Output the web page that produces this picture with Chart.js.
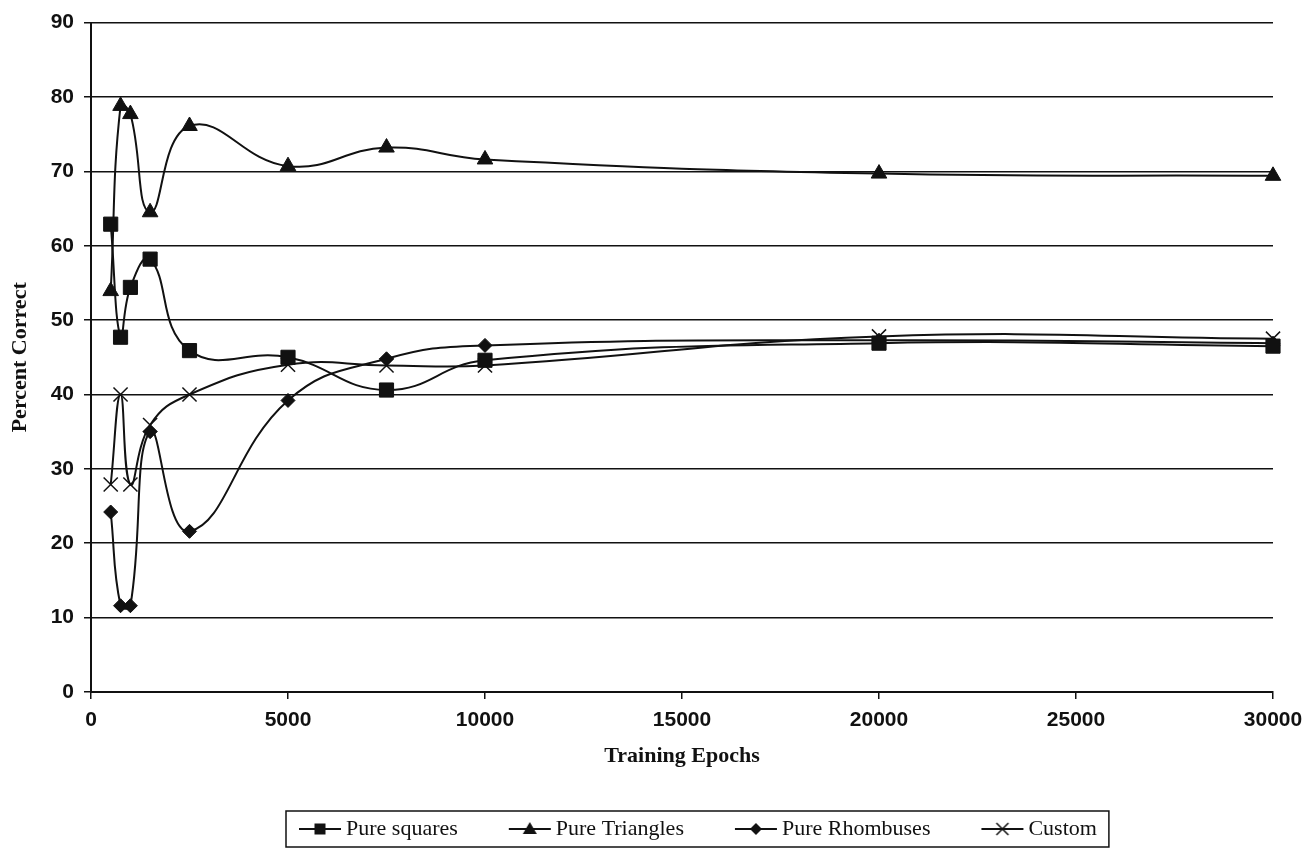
<!DOCTYPE html>
<html>
<head>
<meta charset="utf-8">
<script src="https://cdn.jsdelivr.net/npm/chart.js@4/dist/chart.umd.min.js"></script>
<style>
  html, body { margin: 0; padding: 0; background: #fff; }
  #wrap { width: 1314px; height: 850px; }
</style>
</head>
<body>
<div id="wrap"><canvas id="c" width="1314" height="850"></canvas></div>
<script>
// Training epochs at which each network was tested
const epochs = [500, 750, 1000, 1500, 2500, 5000, 7500, 10000, 20000, 30000];

// Percent correct per training set
const pureSquares   = [62.9, 47.7, 54.4, 58.2, 45.9, 45.0, 40.6, 44.6, 46.9, 46.5];
const pureTriangles = [53.9, 78.8, 77.7, 64.5, 76.1, 70.7, 73.2, 71.6, 69.7, 69.4];
const pureRhombuses = [24.2, 11.6, 11.6, 35.0, 21.6, 39.2, 44.8, 46.6, 47.3, 46.9];
const custom        = [27.9, 40.0, 27.9, 35.9, 40.0, 44.0, 43.9, 43.9, 47.8, 47.5];

const seriesNames = ['Pure squares', 'Pure Triangles', 'Pure Rhombuses', 'Custom'];

// Axis ticks
const xTicks = [0, 5000, 10000, 15000, 20000, 25000, 30000];
const yTicks = [0, 10, 20, 30, 40, 50, 60, 70, 80, 90];

const INK = '#111';
const sansBold = { family: "'Liberation Sans', Arial, sans-serif", size: 21, weight: 'bold' };
const serifBold = { family: "'Liberation Serif', 'Times New Roman', serif", size: 22, weight: 'bold' };

// Legend geometry: swatch box width, swatch symbol width, frame margin
const SW_BOX = 75, SW_SYM = 44, FRAME_PAD = 12, FRAME_LEFT = 286;

// Line-with-marker swatch for a legend entry; the symbol sits at the right
// end of the image so that it ends just before the label text.
function swatch(kind) {
  const c = document.createElement('canvas');
  c.width = SW_BOX + 14; c.height = 16;
  const g = c.getContext('2d');
  const x0 = c.width - SW_SYM;
  g.strokeStyle = INK; g.fillStyle = INK; g.lineWidth = 2;
  g.beginPath(); g.moveTo(x0 + 1, 8); g.lineTo(c.width - 1, 8); g.stroke();
  const cx = x0 + SW_SYM / 2, cy = 8;
  g.beginPath();
  if (kind === 'rect') {
    g.fillRect(cx - 5.5, cy - 5.5, 11, 11);
  } else if (kind === 'triangle') {
    g.moveTo(cx, cy - 7); g.lineTo(cx + 7, cy + 5); g.lineTo(cx - 7, cy + 5); g.closePath(); g.fill();
  } else if (kind === 'rectRot') {
    g.moveTo(cx, cy - 6); g.lineTo(cx + 6, cy); g.lineTo(cx, cy + 6); g.lineTo(cx - 6, cy); g.closePath(); g.fill();
  } else {
    g.lineWidth = 1.5;
    g.moveTo(cx - 6, cy - 6); g.lineTo(cx + 6, cy + 6);
    g.moveTo(cx + 6, cy - 6); g.lineTo(cx - 6, cy + 6); g.stroke();
  }
  return c;
}

const styles = [
  { pointStyle: 'rect', radius: 10 },
  { pointStyle: 'triangle', radius: 9 },
  { pointStyle: 'rectRot', radius: 7 },
  { pointStyle: 'crossRot', radius: 10 }
];
const values = [pureSquares, pureTriangles, pureRhombuses, custom];

const datasets = values.map((vals, i) => ({
  label: seriesNames[i],
  data: epochs.map((x, j) => ({ x, y: vals[j] })),
  borderColor: INK,
  backgroundColor: INK,
  borderWidth: 2,
  tension: 0.45,
  pointStyle: styles[i].pointStyle,
  pointRadius: styles[i].radius,
  pointBorderWidth: styles[i].pointStyle === 'crossRot' ? 1.5 : 1,
  pointBackgroundColor: INK,
  pointBorderColor: INK,
  legendSwatch: swatch(styles[i].pointStyle),
  clip: false
}));

// Places the legend row so its frame starts at FRAME_LEFT, and draws the frame
const legendFrame = {
  id: 'legendFrame',
  afterLayout(chart) {
    const lg = chart.legend;
    if (!lg || !lg.lineWidths) return;
    const pad = lg.options.labels.padding;
    const extent = lg.lineWidths[0] - pad;
    const extentLeft = (lg.left + lg.right) / 2 - extent / 2;
    const firstSymbol = extentLeft + SW_BOX - 37;
    const dx = FRAME_LEFT + FRAME_PAD - firstSymbol;
    lg.left += dx;
    lg.right += dx;
  },
  afterDraw(chart) {
    const boxes = chart.legend && chart.legend.legendHitBoxes;
    if (!boxes || !boxes.length) return;
    const left = Math.min(...boxes.map(b => b.left)) + SW_BOX - 37 - FRAME_PAD;
    const right = Math.max(...boxes.map(b => b.left + b.width)) + FRAME_PAD;
    const mid = boxes[0].top + boxes[0].height / 2;
    const ctx = chart.ctx;
    ctx.save();
    ctx.strokeStyle = INK;
    ctx.lineWidth = 1.5;
    ctx.strokeRect(left, mid - 18, right - left, 36);
    ctx.restore();
  }
};

new Chart(document.getElementById('c'), {
  type: 'line',
  data: { datasets },
  plugins: [legendFrame],
  options: {
    responsive: false,
    animation: false,
    layout: { padding: { left: 0, right: 41, top: 22, bottom: 0 } },
    plugins: {
      tooltip: { enabled: false },
      legend: {
        position: 'bottom',
        labels: {
          color: INK,
          font: { family: "'Liberation Serif', 'Times New Roman', serif", size: 22 },
          usePointStyle: true,
          pointStyleWidth: SW_BOX,
          boxHeight: 16,
          padding: 12,
          generateLabels(chart) {
            return chart.data.datasets.map((ds, i) => ({
              text: ds.label,
              pointStyle: ds.legendSwatch,
              fillStyle: INK,
              strokeStyle: INK,
              lineWidth: 0,
              hidden: false,
              datasetIndex: i,
              fontColor: INK
            }));
          }
        }
      }
    },
    scales: {
      x: {
        type: 'linear',
        min: 0,
        max: 30000,
        afterBuildTicks(scale) { scale.ticks = xTicks.map(v => ({ value: v })); },
        afterFit(scale) { scale.height = 114; },
        grid: { drawOnChartArea: false, drawTicks: true, tickLength: 7, color: INK, lineWidth: 1.5 },
        border: { display: true, color: INK, width: 2 },
        ticks: { color: INK, font: sansBold, padding: 9, maxRotation: 0, callback: v => String(v) },
        title: {
          display: true,
          text: 'Training Epochs',
          color: INK,
          font: serifBold,
          padding: { top: 0, bottom: 36 }
        }
      },
      y: {
        type: 'linear',
        min: 0,
        max: 90,
        afterBuildTicks(scale) { scale.ticks = yTicks.map(v => ({ value: v })); },
        afterFit(scale) { scale.width = 91; },
        grid: { drawOnChartArea: true, drawTicks: true, tickLength: 7, color: INK, lineWidth: 1.5 },
        border: { display: true, color: INK, width: 2 },
        ticks: { color: INK, font: sansBold, padding: 10, callback: v => String(v) },
        title: {
          display: true,
          text: 'Percent Correct',
          color: INK,
          font: serifBold,
          padding: { top: 7, bottom: 0 }
        }
      }
    }
  }
});
</script>
</body>
</html>
